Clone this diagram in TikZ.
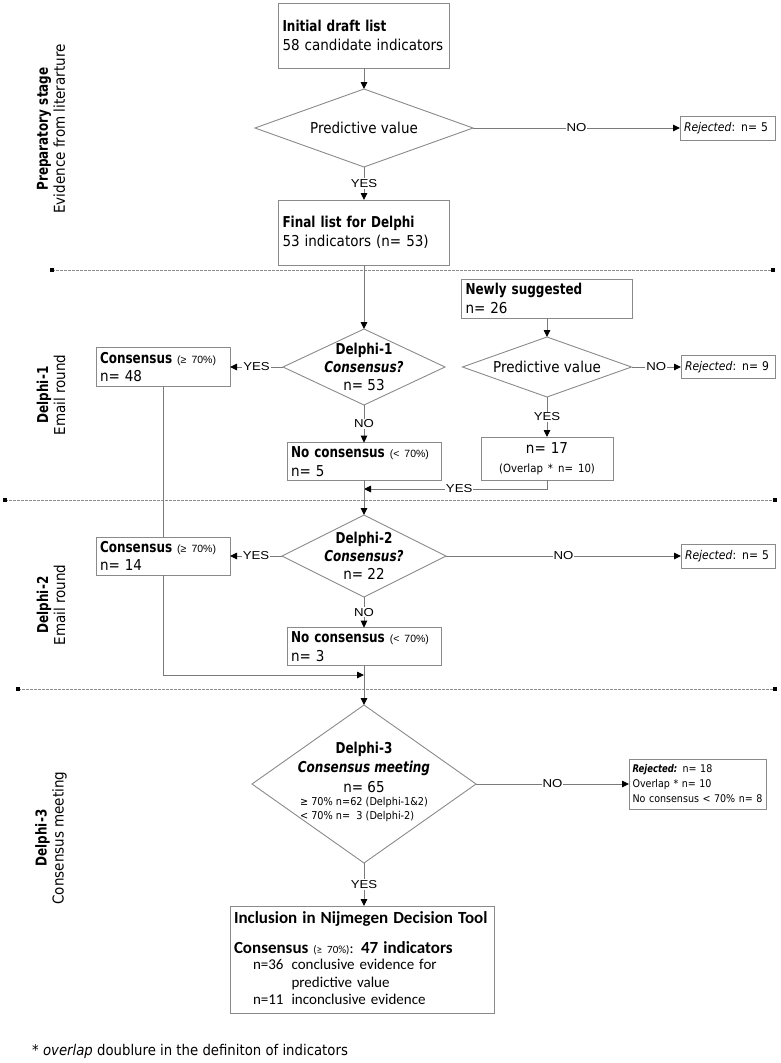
\documentclass[tikz,border=0pt]{standalone}
\usepackage{fontspec}
\setmainfont{DejaVu Sans}[UprightFeatures={FakeStretch=0.9},ItalicFeatures={FakeStretch=0.9},BoldFeatures={FakeStretch=0.8},BoldItalicFeatures={FakeStretch=0.8}]
\newfontfamily\lblfont{Liberation Sans}[FakeStretch=1.15]
\newfontfamily\smallfont{Liberation Sans}
\newfontfamily\carlito{Carlito}
\usetikzlibrary{shapes.geometric,arrows.meta}
\definecolor{boxgray}{HTML}{8A8A8A}
\definecolor{linegray}{HTML}{7A7A7A}
\definecolor{sepgray}{HTML}{8C8C8C}
\newcommand\myfs[2]{\fontsize{#1}{#2}\selectfont}
\begin{document}
\begin{tikzpicture}[x=1pt,y=-1pt,
  box/.style={draw=boxgray, line width=0.9pt, inner sep=4pt, outer sep=0pt, align=left, font=\myfs{15}{18.5}},
  dia/.style={diamond, draw=boxgray, line width=0.9pt, inner sep=0pt, outer sep=0pt},
  conn/.style={draw=linegray, line width=0.9pt},
  arr/.style={conn, -{Triangle[length=7pt,width=6.5pt,color=black]}},
  lbl/.style={fill=white, inner sep=1pt, font={\lblfont\myfs{11.5}{13}}},
  sepline/.style={draw=sepgray, line width=0.7pt, dash pattern=on 2.5pt off 1.5pt},
  sq/.style={fill=black, minimum size=3.5pt, inner sep=0pt, outer sep=0pt},
  side/.style={rotate=90, align=center, font={\myfs{15}{17}}},
]
\useasboundingbox (0,0) rectangle (780,1063);

% separators
\coordinate (s1a) at (52,270); \coordinate (s1b) at (773,270);
\coordinate (s2a) at (5,500); \coordinate (s2b) at (775,500);
\coordinate (s3a) at (18,689); \coordinate (s3b) at (775,689);
\draw[sepline] (s1a) -- (s1b);
\draw[sepline] (s2a) -- (s2b);
\draw[sepline] (s3a) -- (s3b);
\node[sq] (q1a) at (s1a) {}; \node[sq] (q1b) at (s1b) {};
\node[sq] (q2a) at (s2a) {}; \node[sq] (q2b) at (s2b) {};
\node[sq] (q3a) at (s3a) {}; \node[sq] (q3b) at (s3b) {};

% side labels
\node[side] (side0) at (51,129) {\textbf{Preparatory stage}\\Evidence from literarture};
\node[side] (side1) at (51,395) {\textbf{Delphi-1}\\Email round};
\node[side] (side2) at (51,605) {\textbf{Delphi-2}\\Email round};
\node[side] (side3) at (51,838) {\textbf{Delphi-3}\\Consensus meeting};

% preparatory stage
\node[box, text width=163, minimum height=65] (init) at (364,35.5) {\textbf{Initial draft list}\\58 candidate indicators};
\node[dia, minimum width=218, minimum height=78] (pv1) at (364,128) {};
\node[font={\myfs{15}{18}}] (pv1t) at (pv1) {Predictive value};
\node[box, text width=87, minimum height=24, font={\myfs{12}{14}}] (rej1) at (727.5,128) {\textit{Rejected}: n= 5};
\node[box, text width=163, minimum height=65] (final) at (364,232.5) {\textbf{Final list for Delphi}\\53 indicators (n= 53)};

% Delphi-1
\node[dia, minimum width=162, minimum height=76] (d1) at (364,367) {};
\node[align=center, font={\myfs{15}{18}}] (d1t) at (d1) {\textbf{Delphi-1}\\\textbf{\textit{Consensus?}}\\n= 53};
\node[box, text width=126, minimum height=39] (cons1) at (163,367) {\textbf{Consensus} {\smallfont\myfs{10.5}{12}(≥ 70\%)}\\n= 48};
\node[box, text width=146, minimum height=37] (nc1) at (364,461.5) {\textbf{No consensus} {\smallfont\myfs{10.5}{12}(< 70\%)}\\n= 5};
\node[box, text width=163, minimum height=39] (newly) at (547,298.5) {\textbf{Newly suggested}\\n= 26};
\node[dia, minimum width=169, minimum height=60] (pv2) at (547,367) {};
\node[font={\myfs{15}{18}}] (pv2t) at (pv2) {Predictive value};
\node[box, text width=86, minimum height=23, font={\myfs{12}{14}}] (rej2) at (728,367) {\textit{Rejected}: n= 9};
\node[box, text width=124, minimum height=43, align=center] (n17) at (547,458.5) {n= 17\\{\myfs{11.3}{13}(Overlap * n= 10)}};
\coordinate (j1) at (364,489);

% Delphi-2
\node[dia, minimum width=164, minimum height=82] (d2) at (364,556) {};
\node[align=center, font={\myfs{15}{18}}] (d2t) at (d2) {\textbf{Delphi-2}\\\textbf{\textit{Consensus?}}\\n= 22};
\node[box, text width=126, minimum height=38] (cons2) at (163,556) {\textbf{Consensus} {\smallfont\myfs{10.5}{12}(≥ 70\%)}\\n= 14};
\node[box, text width=86, minimum height=24, font={\myfs{12}{14}}] (rej3) at (728,556) {\textit{Rejected}: n= 5};
\node[box, text width=146, minimum height=37] (nc2) at (364,646.5) {\textbf{No consensus} {\smallfont\myfs{10.5}{12}(< 70\%)}\\n= 3};
\coordinate (j2) at (364,675);

% Delphi-3
\node[dia, minimum width=224, minimum height=158] (d3) at (364,784) {};
\node[align=center, font={\myfs{15}{19.5}}] (d3t) at (364,783) {\textbf{Delphi-3}\\\textbf{\textit{Consensus meeting}}\\n= 65\\[-6pt]{\myfs{10.8}{14}\begin{tabular}[t]{@{}l@{}}≥ 70\% n=62 (Delphi-1\&2)\\< 70\% n=\ \ 3 (Delphi-2)\end{tabular}}};
\node[box, text width=130, inner sep=3.5pt, minimum height=50, font={\myfs{10.6}{15}}] (rej4) at (697.5,784) {\textbf{\textit{Rejected:}} n= 18\\Overlap * n= 10\\No consensus < 70\% n= 8};
\node[box, font={\carlito\myfs{15}{17.5}}, text width=256, minimum height=107] (incl) at (362,959.5) {{\myfs{17}{20}\bfseries Inclusion in Nijmegen Decision Tool}\\[12pt]{\myfs{17}{20}\bfseries Consensus} {\myfs{11}{13}(≥ 70\%)}: {\myfs{17}{20}\bfseries 47 indicators}\\[-1pt]\hspace*{19pt}\begin{tabular}[t]{@{}l@{\hspace{8pt}}l@{}}n=36 & conclusive evidence for\\ & predictive value\\n=11 & inconclusive evidence\end{tabular}\\[-4pt]\mbox{}};

\node[anchor=west, inner sep=0pt, font={\myfs{14.75}{17}}] (foot) at (32,1051) {* \textit{overlap} doublure in the definiton of indicators};

% connectors
\draw[arr] (init.south) -- (pv1.north);
\draw[arr] (pv1.east) -- node[lbl]{NO} (rej1.west);
\draw[arr] (pv1.south) -- node[lbl]{YES} (final.north);
\draw[arr] (final.south) -- (d1.north);
\draw[arr] (d1.west) -- node[lbl]{YES} (cons1.east);
\draw[arr] (d1.south) -- node[lbl]{NO} (nc1.north);
\draw[arr] (newly.south) -- (pv2.north);
\draw[arr] (pv2.east) -- node[lbl]{NO} (rej2.west);
\draw[arr] (pv2.south) -- node[lbl]{YES} (n17.north);
\draw[arr] (n17.south) |- node[lbl, pos=0.74]{YES} (j1);
\draw[arr] (nc1.south) -- (d2.north);
\draw[conn] (cons1.south) -- (cons2.north);
\draw[arr] (d2.west) -- node[lbl]{YES} (cons2.east);
\draw[arr] (d2.east) -- node[lbl]{NO} (rej3.west);
\draw[arr] (d2.south) -- node[lbl]{NO} (nc2.north);
\draw[arr] (cons2.south) |- (j2);
\draw[arr] (nc2.south) -- (d3.north);
\draw[arr] (d3.east) -- node[lbl]{NO} (rej4.west);
\draw[arr] (d3.south) -- node[lbl]{YES} (d3.south |- incl.north);
\end{tikzpicture}
\end{document}
